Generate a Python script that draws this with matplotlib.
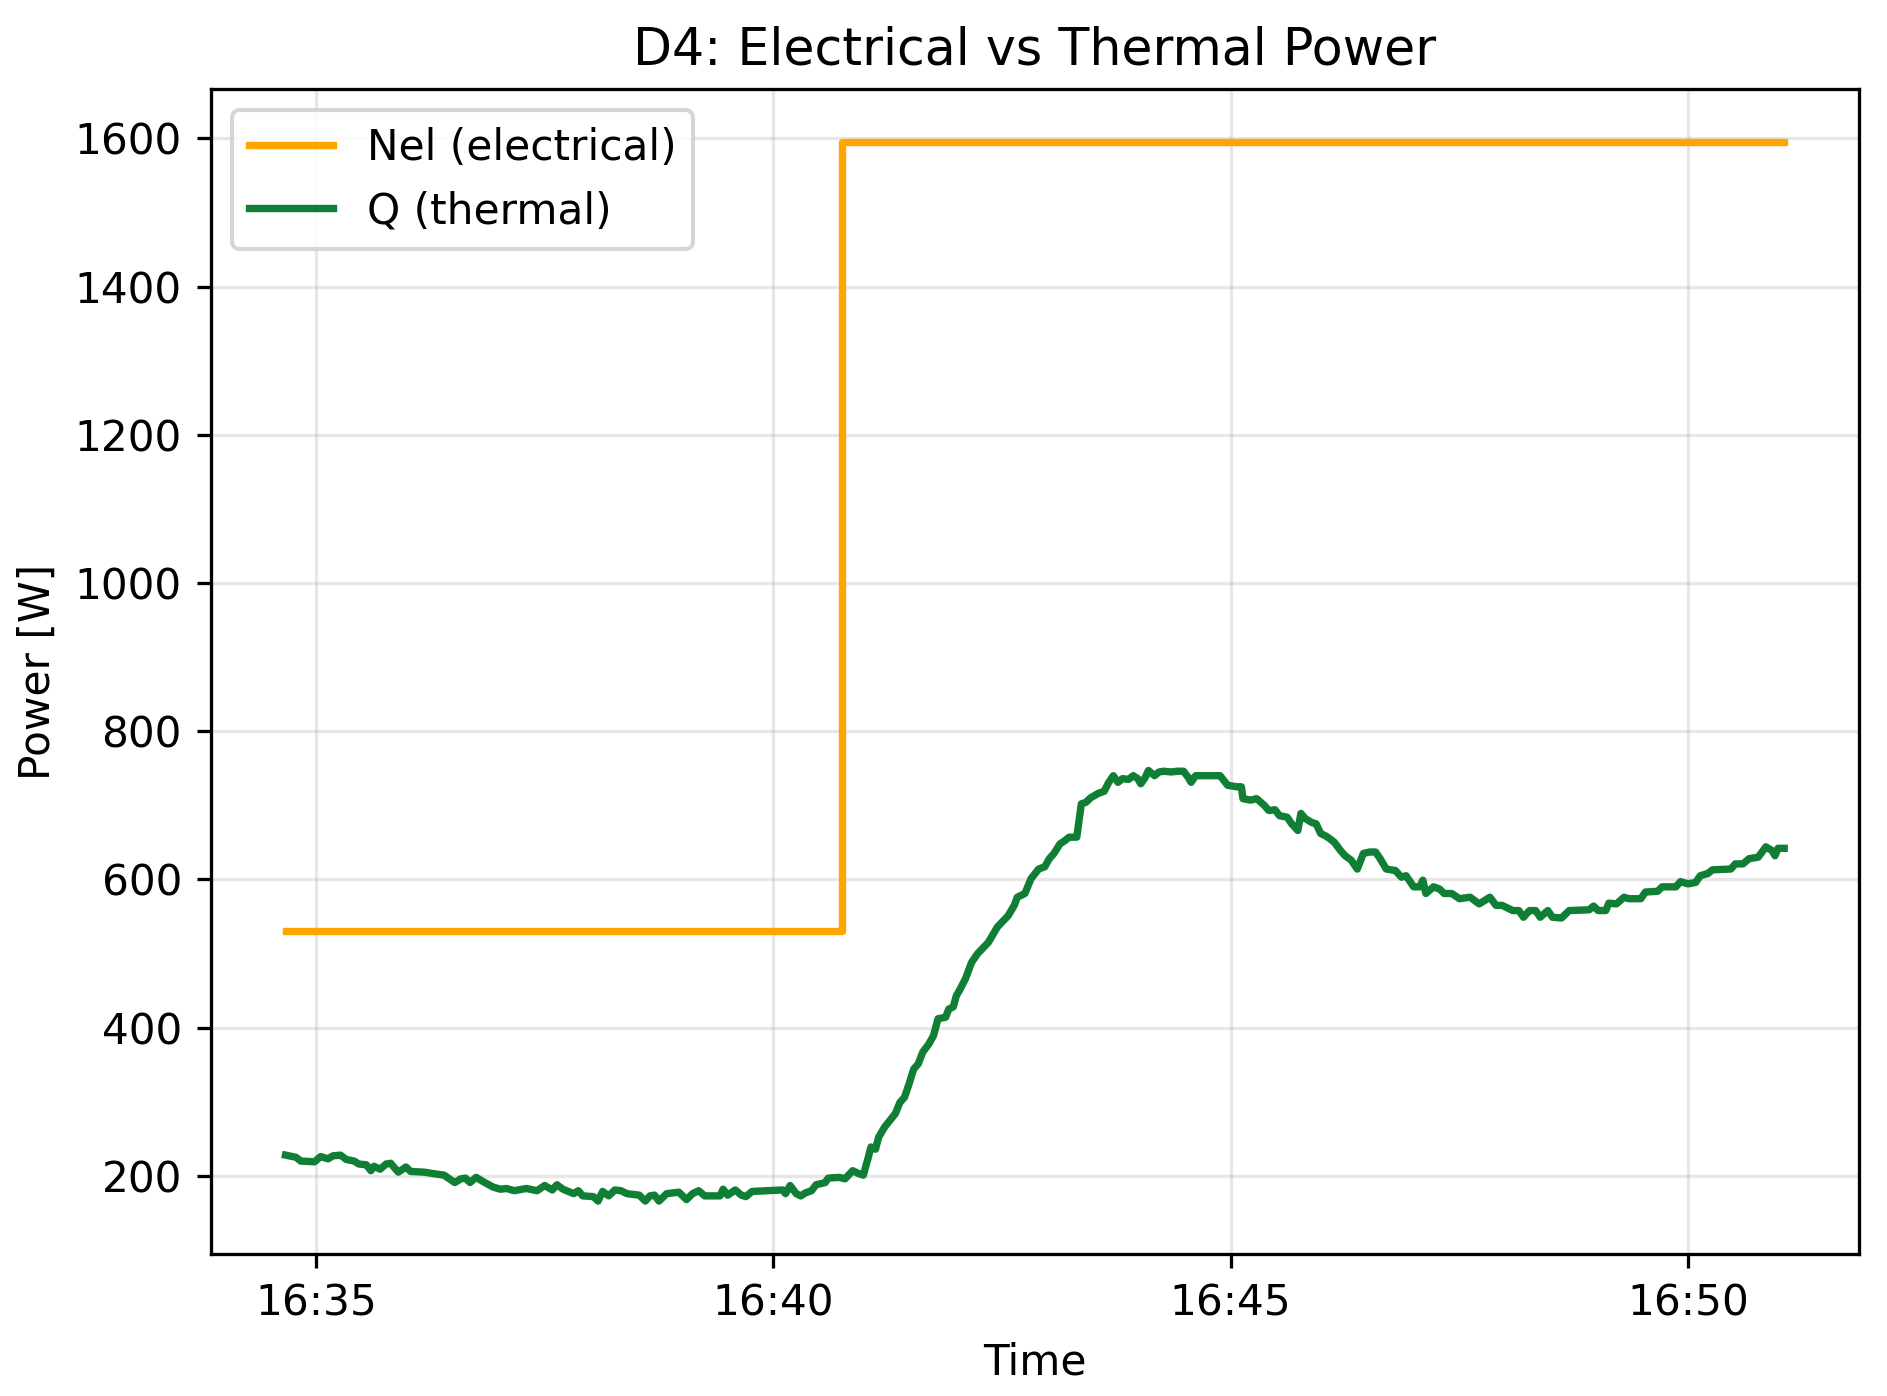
import numpy as np
import matplotlib
matplotlib.use('Agg')
import matplotlib.pyplot as plt
import matplotlib.dates as mdates
import pandas as pd

plt.rcParams['font.size'] = 10.3

# Start of the x axis, data times are offsets in seconds from here
t0 = pd.Timestamp('2024-01-01 16:35:00')

# Nel (electrical), step signal
nel_sec = [-20, 345, 963]
nel_watt = [530, 1595, 1595]

# Q (thermal) (10 values per row)
q_sec = [
    -20, -13, -10, -1, 3, 8, 11, 16, 20, 25,
    28, 33, 36, 38, 42, 46, 49, 51, 54, 59,
    62, 71, 77, 84, 91, 95, 98, 101, 105, 109,
    116, 121, 125, 130, 138, 145, 150, 155, 158, 162,
    169, 172, 175, 182, 185, 188, 192, 196, 200, 204,
    212, 216, 219, 222, 225, 230, 238, 243, 247, 251,
    255, 265, 267, 270, 275, 279, 282, 286, 306, 308,
    311, 315, 318, 321, 325, 328, 334, 336, 343, 347,
    352, 356, 359, 362, 364, 367, 369, 373, 380, 383,
    386, 389, 392, 395, 398, 402, 405, 408, 413, 415,
    418, 420, 422, 426, 430, 434, 441, 447, 454, 458,
    460, 465, 469, 474, 478, 481, 484, 488, 491, 494,
    499, 502, 505, 508, 513, 517, 520, 523, 526, 529,
    533, 536, 539, 541, 544, 546, 550, 553, 556, 561,
    565, 569, 572, 574, 577, 582, 588, 593, 598, 604,
    607, 608, 613, 617, 622, 625, 629, 632, 637, 640,
    644, 646, 649, 653, 656, 659, 662, 665, 668, 672,
    675, 679, 683, 687, 691, 695, 698, 702, 708, 712,
    715, 720, 724, 726, 728, 733, 737, 740, 745, 750,
    757, 763, 770, 774, 778, 785, 789, 792, 796, 800,
    803, 808, 811, 817, 822, 835, 838, 841, 846, 848,
    853, 858, 861, 869, 872, 880, 883, 892, 895, 900,
    905, 908, 913, 916, 928, 931, 936, 940, 946, 951,
    955, 957, 959, 963,
]
q_watt = [
    228, 225, 220, 219, 226, 223, 227, 228, 222, 220,
    216, 215, 207, 213, 209, 216, 217, 212, 205, 212,
    206, 205, 203, 201, 191, 196, 197, 191, 198, 193,
    185, 182, 183, 180, 183, 180, 187, 181, 188, 182,
    176, 180, 173, 172, 166, 179, 173, 181, 180, 176,
    174, 166, 173, 174, 166, 176, 178, 168, 176, 180,
    173, 173, 182, 174, 181, 174, 172, 179, 181, 176,
    187, 176, 173, 177, 180, 188, 191, 197, 198, 196,
    207, 203, 201, 223, 239, 236, 252, 266, 284, 299,
    306, 324, 344, 351, 367, 378, 389, 412, 414, 425,
    428, 443, 450, 466, 488, 500, 515, 536, 551, 565,
    576, 581, 601, 614, 617, 628, 635, 648, 652, 657,
    657, 702, 704, 710, 716, 719, 731, 740, 731, 736,
    735, 740, 736, 729, 738, 747, 740, 745, 746, 745,
    746, 746, 738, 731, 740, 740, 740, 740, 727, 725,
    725, 709, 707, 709, 700, 693, 694, 686, 684, 675,
    666, 689, 682, 677, 675, 662, 659, 655, 650, 639,
    632, 626, 614, 635, 637, 637, 628, 614, 612, 603,
    605, 590, 590, 599, 581, 590, 587, 581, 581, 574,
    576, 567, 576, 565, 565, 558, 558, 549, 558, 558,
    549, 558, 549, 548, 558, 559, 564, 558, 558, 568,
    567, 576, 574, 574, 583, 584, 590, 590, 597, 594,
    596, 605, 608, 613, 614, 621, 621, 628, 630, 644,
    639, 632, 642, 642,
]

nel_time = t0 + pd.to_timedelta(nel_sec, unit='s')
q_time = t0 + pd.to_timedelta(q_sec, unit='s')

dpi = 295
fig = plt.figure(figsize=(1887 / dpi, 1396 / dpi), dpi=dpi)
ax = fig.add_axes([0.1116, 0.1017, 0.9852 - 0.1116, 0.9362 - 0.1017])

ax.plot(nel_time, nel_watt, color='orange', lw=1.8, drawstyle='steps-post',
        label='Nel (electrical)')
ax.plot(q_time, q_watt, color='#107f35', lw=1.8, label='Q (thermal)')

ax.xaxis.set_major_locator(mdates.MinuteLocator(byminute=[35, 40, 45, 50]))
ax.xaxis.set_major_formatter(mdates.DateFormatter('%H:%M'))
ax.set_title('D4: Electrical vs Thermal Power')
ax.set_xlabel('Time')
ax.set_ylabel('Power [W]')
ax.grid(True, alpha=0.3)
ax.legend(loc='upper left')

fig.savefig('out.png', dpi=dpi)
